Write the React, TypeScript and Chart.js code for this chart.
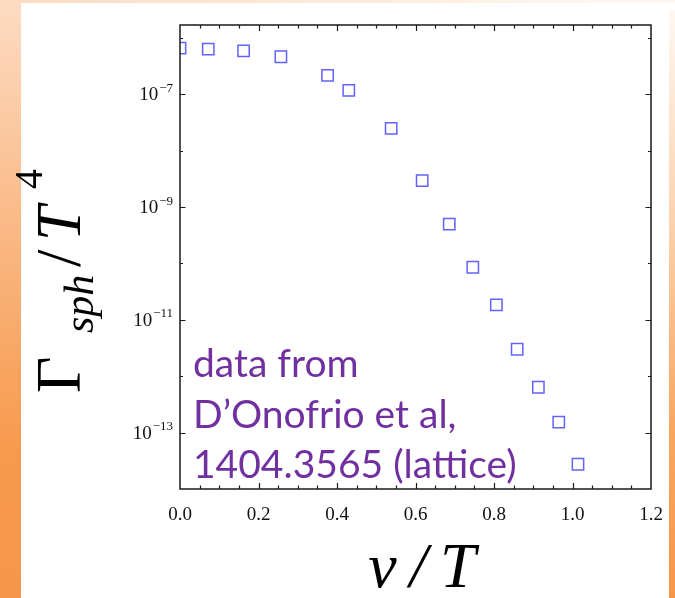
import React, { useEffect, useRef } from "react";
import { Chart, registerables } from "chart.js";

Chart.register(...registerables);

// ---- data ----
const vOverT = [0.0, 0.072, 0.162, 0.257, 0.376, 0.43, 0.538, 0.617, 0.686, 0.746, 0.806, 0.859, 0.913, 0.965, 1.014];
const gammaOverT4 = [6.6e-7, 6.35e-7, 5.9e-7, 4.65e-7, 2.17e-7, 1.18e-7, 2.49e-8, 2.94e-9, 5.0e-10, 8.57e-11, 1.84e-11, 3.01e-12, 6.38e-13, 1.53e-13, 2.75e-14];
const xTickValues = [0, 0.2, 0.4, 0.6, 0.8, 1.0, 1.2];
const yTickExponents = [-14, -13, -12, -11, -10, -9, -8, -7, -6];
const yLabelExponents = [-7, -9, -11, -13];
const noteLines = ["data from", "D\u2019Onofrio et al,", "1404.3565 (lattice)"];

const SERIF = "'Liberation Serif', 'Times New Roman', serif";

const framePlugin = {
  id: "frameAndText",
  afterDraw(chart: any) {
    const { ctx, chartArea } = chart;
    const { left, right, top, bottom } = chartArea;
    const xs = chart.scales.x;
    const ys = chart.scales.y;
    ctx.save();
    // frame
    ctx.strokeStyle = "#1a1a1a";
    ctx.lineWidth = 1.5;
    ctx.strokeRect(left, top, right - left, bottom - top);
    // x ticks (inward), every 0.05
    ctx.lineWidth = 1.2;
    ctx.beginPath();
    for (let i = 1; i < 24; i++) {
      const px = Math.round(xs.getPixelForValue(i * 0.05)) + 0.5;
      const len = i % 4 === 0 ? 6 : 3.5;
      ctx.moveTo(px, bottom);
      ctx.lineTo(px, bottom - len);
      ctx.moveTo(px, top);
      ctx.lineTo(px, top + len);
    }
    // y ticks (inward), every decade
    for (const e of yTickExponents) {
      const py = Math.round(ys.getPixelForValue(Math.pow(10, e))) + 0.5;
      if (py <= top + 1 || py >= bottom - 1) continue;
      const len = Math.abs(e) % 2 === 1 ? 5.5 : 3;
      ctx.moveTo(left, py);
      ctx.lineTo(left + len, py);
      ctx.moveTo(right, py);
      ctx.lineTo(right - len, py);
    }
    ctx.stroke();

    // y tick labels 10^e with real superscript
    ctx.fillStyle = "#111";
    ctx.textAlign = "right";
    ctx.textBaseline = "alphabetic";
    for (const e of yLabelExponents) {
      const py = ys.getPixelForValue(Math.pow(10, e));
      const expText = "\u2212" + String(Math.abs(e));
      ctx.font = `13px ${SERIF}`;
      const ew = ctx.measureText(expText).width;
      ctx.fillText(expText, left - 7, py - 2.5);
      ctx.font = `19px ${SERIF}`;
      ctx.fillText("10", left - 7 - ew - 1, py + 6);
    }

    // y-axis title  Γ_sph / T^4  (rotated)
    ctx.fillStyle = "#000";
    ctx.translate(80, 393);
    ctx.rotate(-Math.PI / 2);
    ctx.textBaseline = "alphabetic";
    ctx.textAlign = "left";
    ctx.font = `63px ${SERIF}`;
    ctx.fillText("\u0393", 0, 0);
    ctx.font = `italic 42px ${SERIF}`;
    ctx.fillText("sph", 60, 13);
    ctx.font = `63px ${SERIF}`;
    ctx.fillText("/", 126, 0);
    ctx.font = `italic 63px ${SERIF}`;
    ctx.fillText("T", 152, 0);
    ctx.font = `40px ${SERIF}`;
    ctx.fillText("4", 204, -38);
    ctx.restore();

    // annotation
    ctx.save();
    ctx.fillStyle = "#7030A0";
    ctx.font = "39px Lato, 'Noto Sans', sans-serif";
    ctx.textBaseline = "alphabetic";
    ctx.textAlign = "left";
    const baselines = [377, 427.5, 478];
    noteLines.forEach((t, i) => ctx.fillText(t, 193, baselines[i]));
    ctx.restore();
  },
};

export default function App() {
  const ref = useRef<HTMLCanvasElement | null>(null);
  useEffect(() => {
    if (!ref.current) return;
    const chart = new Chart(ref.current, {
      type: "scatter",
      data: {
        datasets: [
          {
            data: vOverT.map((v, i) => ({ x: v, y: gammaOverT4[i] })),
            pointStyle: "rect",
            pointRadius: 8,
            pointHoverRadius: 8,
            borderColor: "rgba(70,70,255,0.85)",
            backgroundColor: "rgba(0,0,0,0)",
            borderWidth: 1.5,
            clip: 0,
          } as any,
        ],
      },
      options: {
        animation: false,
        responsive: false,
        maintainAspectRatio: false,
        layout: { padding: { left: 0, top: 25, right: 24, bottom: 0 } },
        plugins: { legend: { display: false }, tooltip: { enabled: false } },
        scales: {
          x: {
            type: "linear",
            min: 0,
            max: 1.2,
            afterBuildTicks: (s: any) => {
              s.ticks = xTickValues.map((v) => ({ value: v }));
            },
            ticks: {
              callback: (v: any) => Number(v).toFixed(1),
              font: { family: SERIF, size: 19 },
              color: "#111",
              padding: 15,
              maxRotation: 0,
              autoSkip: false,
            },
            grid: { display: false, drawTicks: false },
            border: { display: false },
            title: {
              display: true,
              text: "\u2009v\u2009/\u2009T",
              font: { family: SERIF, size: 64, style: "italic", lineHeight: 1 },
              padding: { top: 0, bottom: -4 },
              color: "#000",
            },
            afterFit: (s: any) => {
              s.height = 109;
              s.paddingLeft = 0;
              s.paddingRight = 0;
            },
          },
          y: {
            type: "logarithmic",
            min: 1e-14,
            max: 1.7e-6,
            afterBuildTicks: (s: any) => {
              s.ticks = yTickExponents.map((e) => ({ value: Math.pow(10, e) }));
            },
            ticks: { display: false },
            grid: { display: false, drawTicks: false },
            border: { display: false },
            afterFit: (s: any) => {
              s.width = 180;
              s.paddingTop = 0;
              s.paddingBottom = 0;
            },
          },
        },
      },
      plugins: [framePlugin],
    } as any);
    return () => chart.destroy();
  }, []);

  return (
    <div style={{ position: "fixed", left: 0, top: 0, width: 675, height: 598, background: "#fff", overflow: "hidden" }}>
      <div style={{ position: "absolute", left: 21, top: 0, width: 654, height: 3, background: "linear-gradient(to right, #FCDCC2, #FEF1E6 70%, #FFF8F2)" }} />
      <div style={{ position: "absolute", left: 0, top: 0, width: 21, height: 598, background: "linear-gradient(to bottom, #FDDCC3 0%, #F9B27A 45%, #F79A4E 75%, #F7964A 100%)" }} />
      <div style={{ position: "absolute", left: 669, top: 10, width: 6, height: 588, background: "linear-gradient(to bottom, #FFF8F2 0%, #FBD3B0 35%, #F8A864 70%, #F7964A 100%)" }} />
      <canvas ref={ref} width={675} height={598} style={{ position: "absolute", left: 0, top: 0, width: 675, height: 598 }} />
    </div>
  );
}
